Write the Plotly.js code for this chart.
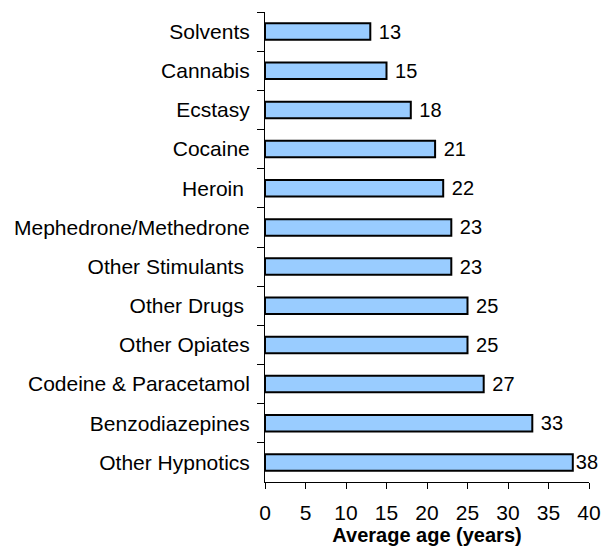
<!DOCTYPE html>
<html><head><meta charset="utf-8">
<script src="https://cdn.plot.ly/plotly-3.0.1.min.js"></script>
<style>body{margin:0;background:#fff}</style>
</head><body>
<div id="chart" style="width:602px;height:550px"></div>
<script>
const categories = ["Solvents","Cannabis","Ecstasy","Cocaine","Heroin ","Mephedrone/Methedrone","Other Stimulants ","Other Drugs ","Other Opiates","Codeine & Paracetamol","Benzodiazepines","Other Hypnotics"];
const values = [13,15,18,21,22,23,23,25,25,27,33,38];
const xTicks = [0,5,10,15,20,25,30,35,40];

const maxV = Math.max(...values);
Plotly.newPlot('chart', [{
  type: 'bar',
  orientation: 'h',
  y: categories,
  x: values,
  texttemplate: values.map(v => v === maxV ? '%{x}' : ' %{x}'),
  textposition: 'outside',
  constraintext: 'none',
  cliponaxis: false,
  textfont: {family: 'Liberation Sans, Arial', size: 20, color: '#000'},
  marker: {color: '#99CCFF', line: {color: '#000', width: 2}},
  hoverinfo: 'none'
}], {
  width: 602, height: 550,
  margin: {l: 265, r: 13, t: 12, b: 68},
  paper_bgcolor: '#fff', plot_bgcolor: '#fff',
  bargap: 0.58,
  showlegend: false,
  font: {family: 'Liberation Sans, Arial', size: 21, color: '#000'},
  xaxis: {
    range: [0, 40], tickvals: xTicks, ticktext: xTicks.map(String),
    showgrid: false, zeroline: false, showline: true, linecolor: '#000', linewidth: 1,
    ticks: 'outside', ticklen: 6, tickcolor: '#000',
    ticklabelstandoff: 6,
    tickfont: {size: 21},
    title: {text: '<b>Average age (years)</b>', font: {size: 20}, standoff: 3}
  },
  yaxis: {
    type: 'category', autorange: 'reversed',
    tickson: 'boundaries',
    showgrid: false, zeroline: false, showline: true, linecolor: '#000', linewidth: 1,
    ticks: 'outside', ticklen: 7, tickcolor: '#000',
    ticklabelstandoff: 10,
    tickfont: {size: 21}
  }
}, {staticPlot: true});
</script>
</body></html>
